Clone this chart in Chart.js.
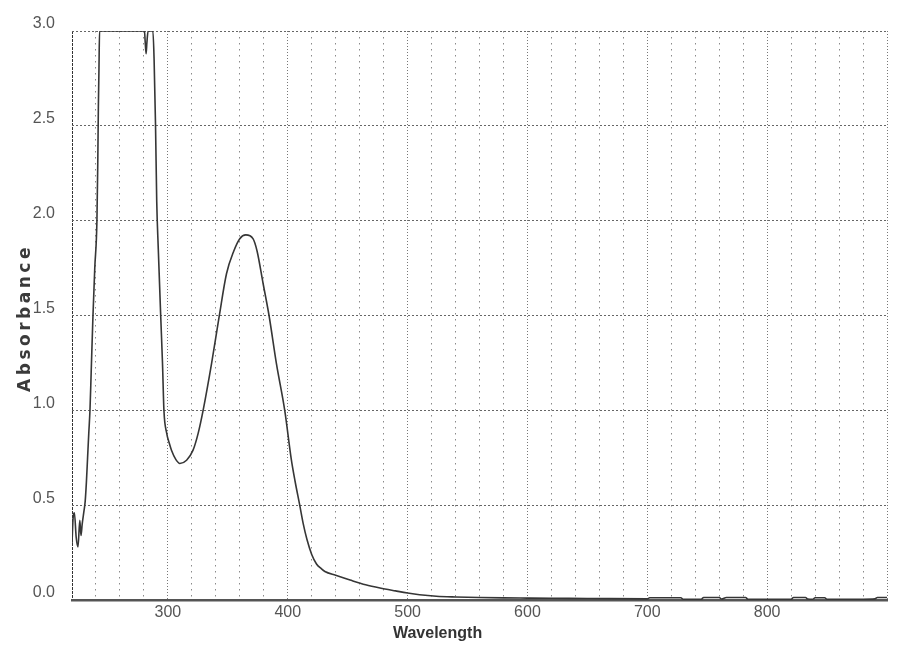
<!DOCTYPE html>
<html>
<head>
<meta charset="utf-8">
<title>Absorbance spectrum</title>
<script src="https://cdn.jsdelivr.net/npm/chart.js@4/dist/chart.umd.min.js"></script>
<style>
  html, body { margin: 0; padding: 0; background: #fff; }
</style>
</head>
<body>
<canvas id="spectrum" width="916" height="655"></canvas>
<script>
// wavelength (nm) and absorbance
const wavelength = [
  220, 221, 222, 223.5, 225, 226.5, 227.5, 228.5, 230, 231,
  232, 233, 234, 235, 236, 237.5, 239, 240.8, 241.5, 242, 242.5, 243,
  250, 260, 270, 280.5, 281, 281.8, 282.5, 283.5, 287.5,
  288.5, 289.7, 290.7, 292, 294, 295.5, 296.7, 299, 301, 303, 306.7, 310,
  315.6, 321, 325.3, 329.4, 336.4, 342.8, 348.9, 355, 360, 365,
  371, 374.4, 379.4, 384.4, 390.6, 397.5, 403, 406, 410, 413, 416, 420,
  424, 428, 431, 440, 452, 465, 477, 490, 500, 510, 524, 540, 560, 580,
  600, 620, 650, 700, 702, 728, 730, 745, 747, 760, 762, 766, 782, 784,
  820, 822, 832, 834, 838, 840, 848, 850, 880, 890, 892, 900
];
const absorbance = [
  0.30, 0.44, 0.46, 0.33, 0.28, 0.42, 0.34, 0.40, 0.47, 0.52,
  0.62, 0.75, 0.88, 1.00, 1.20, 1.50, 1.75, 2.00, 2.30, 2.60, 2.80, 3.00,
  3.00, 3.00, 3.00, 3.00, 2.95, 2.88, 2.94, 3.00, 3.00,
  2.85, 2.50, 2.10, 1.85, 1.50, 1.25, 1.00, 0.88, 0.83, 0.79, 0.74, 0.72,
  0.737, 0.79, 0.88, 1.00, 1.245, 1.495, 1.72, 1.84, 1.905, 1.925,
  1.905, 1.84, 1.67, 1.50, 1.245, 1.00, 0.74, 0.63, 0.50, 0.40, 0.32, 0.24,
  0.19, 0.165, 0.15, 0.13, 0.105, 0.08, 0.063, 0.048, 0.037, 0.028, 0.02, 0.016, 0.013, 0.011,
  0.010, 0.009, 0.008, 0.006, 0.012, 0.012, 0.004, 0.004, 0.013, 0.013, 0.005, 0.013, 0.013, 0.004,
  0.004, 0.013, 0.013, 0.005, 0.004, 0.012, 0.012, 0.004, 0.004, 0.006, 0.013, 0.013
];
const xLabelled = [300, 400, 500, 600, 700, 800];
const yLabels = ["0.0", "0.5", "1.0", "1.5", "2.0", "2.5", "3.0"];

const tickFont = { family: "'Liberation Sans', Arial, sans-serif", size: 16 };

// axis titles drawn by hand so the letter spacing can be set
const axisTitles = {
  id: "axisTitles",
  afterDraw(chart) {
    const { ctx, chartArea, scales } = chart;
    ctx.save();
    ctx.fillStyle = "#333";
    ctx.font = "bold 16px 'Liberation Sans', Arial, sans-serif";
    ctx.textAlign = "center";
    ctx.textBaseline = "alphabetic";
    ctx.fillText("Wavelength", scales.x.getPixelForValue(525), chartArea.bottom + 38);

    ctx.translate(30, 318);
    ctx.rotate(-Math.PI / 2);
    ctx.fillStyle = "#3a3a3a";
    ctx.font = "bold 17px 'DejaVu Sans', Verdana, sans-serif";
    ctx.letterSpacing = "3.5px";
    ctx.fillText("Absorbance", 0, 0);
    ctx.restore();
  },
};

const tickValue = (c) => (c.tick ? c.tick.value : null);

const config = {
  type: "line",
  data: {
    datasets: [
      {
        data: wavelength.map((w, i) => ({ x: w, y: absorbance[i] })),
        borderColor: "#363636",
        borderWidth: 1.6,
        pointRadius: 0,
        cubicInterpolationMode: "monotone",
        fill: false,
      },
    ],
  },
  options: {
    responsive: false,
    animation: false,
    devicePixelRatio: 1,
    layout: { padding: { left: 0, right: 29, top: 31, bottom: 0 } },
    plugins: {
      legend: { display: false },
      tooltip: { enabled: false },
    },
    scales: {
      x: {
        type: "linear",
        min: 220,
        max: 900,
        afterFit: (s) => { s.height = 55; },
        ticks: {
          stepSize: 20,
          autoSkip: false,
          maxRotation: 0,
          padding: 3,
          color: "#555",
          font: tickFont,
          callback: (v) => (xLabelled.includes(v) ? String(v) : ""),
        },
        grid: {
          drawTicks: false,
          lineWidth: 1,
          color: (c) => {
            const v = tickValue(c);
            if (v === 220) return "#333";
            return v % 100 === 0 ? "#777" : "#8a8a8a";
          },
        },
        border: {
          display: true,
          color: "#555",
          width: 2.5,
          dash: (c) => {
            const v = tickValue(c);
            if (v === null) return [];
            if (v === 220) return [3, 1];
            return v % 100 === 0 ? [1, 2] : [1.5, 4.5];
          },
        },
      },
      y: {
        min: 0,
        max: 3,
        afterFit: (s) => { s.width = 72; },
        ticks: {
          stepSize: 0.5,
          padding: 17,
          labelOffset: -7,
          color: "#555",
          font: tickFont,
          callback: (v) => yLabels[Math.round(v * 2)],
        },
        grid: {
          drawTicks: false,
          lineWidth: 1,
          color: (c) => (tickValue(c) === 0 ? "#555" : "#666"),
        },
        border: {
          display: false,
          dash: (c) => (tickValue(c) === 0 ? [] : [2, 2]),
        },
      },
    },
  },
  plugins: [axisTitles],
};

new Chart(document.getElementById("spectrum"), config);
</script>
</body>
</html>
